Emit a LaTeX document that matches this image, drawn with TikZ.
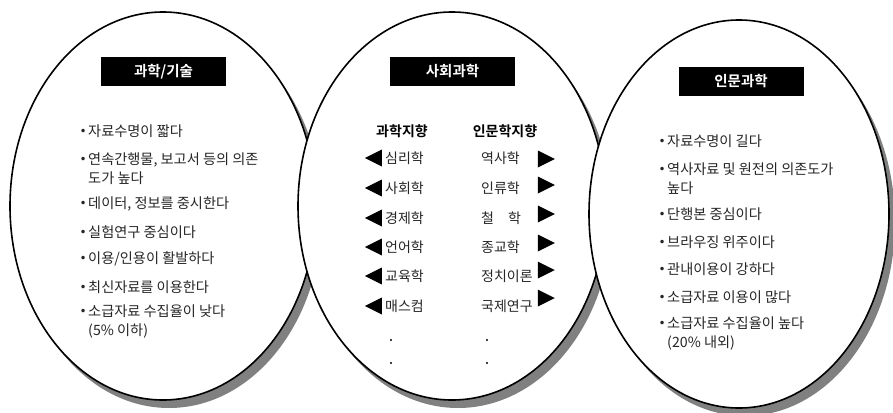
\documentclass[tikz,border=0pt]{standalone}
\usepackage{fontspec}
\setmainfont{Noto Sans CJK KR}[WordSpace=1.0, BoldFont={Noto Sans CJK KR Bold}]
\newfontfamily\symfont{DejaVu Sans}
\usetikzlibrary{shapes.geometric, positioning}
\newcommand\bul{\llap{\raisebox{1pt}{\symfont\fontsize{12}{12}\selectfont •}\hspace{1.5pt}}}

\begin{document}
\begin{tikzpicture}[x=1pt, y=-1pt,
		field/.style={ellipse, draw=black, line width=1.6pt, fill=white, inner sep=0pt, minimum height=388pt},
		fieldshadow/.style={ellipse, fill=black!50, inner sep=0pt, minimum height=388pt},
		fieldtitle/.style={fill=black, text=white, font=\fontsize{14.5}{16}\selectfont\bfseries, minimum width=125pt, minimum height=29pt, inner sep=0pt},
		item/.style={anchor=west, align=left, inner sep=0pt, text=black!85, font=\fontsize{14.2}{19}\selectfont},
		subject/.style={anchor=west, inner sep=0pt, text=black!85, font=\fontsize{14}{16}\selectfont},
		colhead/.style={inner sep=0pt, font=\fontsize{14}{16}\selectfont\bfseries},
		toward/.style={isosceles triangle, isosceles triangle stretches, fill=black, inner sep=0pt, minimum width=17pt, minimum height=17pt},
		dotmark/.style={circle, fill=black, inner sep=0pt, minimum size=2.2pt}]
	\useasboundingbox (0,0) rectangle (893,412);

	\node[fieldshadow, minimum width=306pt] (sciS) at (169,214) {};
	\node[field, minimum width=306pt] (sci) at (163,206) {};
	\node[fieldshadow, minimum width=308pt] (socS) at (458,214) {};
	\node[field, minimum width=308pt] (soc) at (452,206) {};
	\node[fieldshadow, minimum width=300pt] (humS) at (745,222) {};
	\node[field, minimum width=300pt] (hum) at (739,214) {};

	\node[fieldtitle] (sciT) at (163.5,71.5) {과학/기술};
	\node[item] (sci1) at (88,131) {\bul 자료수명이 짧다};
	\node[item] (sci2) at (88,168.5) {\bul 연속간행물, 보고서 등의 의존\\도가 높다};
	\node[item] (sci3) at (88,204) {\bul 데이터, 정보를 중시한다};
	\node[item] (sci4) at (88,232) {\bul 실험연구 중심이다};
	\node[item] (sci5) at (88,259) {\bul 이용/인용이 활발하다};
	\node[item] (sci6) at (88,287) {\bul 최신자료를 이용한다};
	\node[item] (sci7) at (88,322) {\bul 소급자료 수집율이 낮다\\(5\% 이하)};

	\node[fieldtitle] (socT) at (452.5,71.5) {사회과학};
	\node[colhead] (sciward) at (402,131) {과학지향};
	\node[colhead] (humward) at (505,131) {인문학지향};
	\node[subject] (psy) at (385,158) {심리학};
	\node[subject] (soci) at (385,188) {사회학};
	\node[subject] (eco) at (385,218) {경제학};
	\node[subject] (ling) at (385,247) {언어학};
	\node[subject] (edu) at (385,276) {교육학};
	\node[subject] (mass) at (385,306) {매스컴};
	\node[toward, shape border rotate=180] (l1) [left=3pt of psy] {};
	\node[toward, shape border rotate=180] (l2) [left=3pt of soci] {};
	\node[toward, shape border rotate=180] (l3) [left=3pt of eco] {};
	\node[toward, shape border rotate=180] (l4) [left=3pt of ling] {};
	\node[toward, shape border rotate=180] (l5) [left=3pt of edu] {};
	\node[toward, shape border rotate=180] (l6) [left=3pt of mass] {};
	\node[subject] (hist) at (481,158) {역사학};
	\node[subject] (anth) at (481,188) {인류학};
	\node[subject] (phil) at (481,218) {철\hspace{1em}학};
	\node[subject] (reli) at (481,247) {종교학};
	\node[subject] (poli) at (481,276) {정치이론};
	\node[subject] (intl) at (481,306) {국제연구};
	\node[toward] (r1) at (543,159) {};
	\node[toward] (r2) at (543,185) {};
	\node[toward] (r3) at (543,214) {};
	\node[toward] (r4) at (543,243) {};
	\node[toward] (r5) at (543,270) {};
	\node[toward] (r6) at (543,298) {};
	\node[dotmark] (ld1) at (391,340) {};
	\node[dotmark] (ld2) at (391,363) {};
	\node[dotmark] (rd1) at (487,340) {};
	\node[dotmark] (rd2) at (487,363) {};

	\node[fieldtitle] (humT) at (741,81.5) {인문과학};
	\node[item] (hum1) at (667,141) {\bul 자료수명이 길다};
	\node[item] (hum2) at (667,178.5) {\bul 역사자료 및 원전의 의존도가\\높다};
	\node[item] (hum3) at (667,214) {\bul 단행본 중심이다};
	\node[item] (hum4) at (667,242) {\bul 브라우징 위주이다};
	\node[item] (hum5) at (667,269) {\bul 관내이용이 강하다};
	\node[item] (hum6) at (667,297) {\bul 소급자료 이용이 많다};
	\node[item] (hum7) at (667,333.5) {\bul 소급자료 수집율이 높다\\(20\% 내외)};
\end{tikzpicture}
\end{document}
